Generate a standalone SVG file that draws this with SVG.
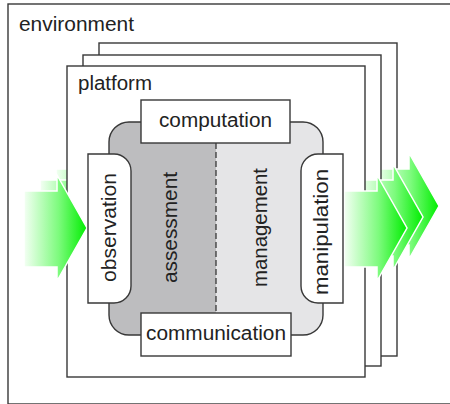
<svg xmlns="http://www.w3.org/2000/svg" xmlns:xlink="http://www.w3.org/1999/xlink" width="450" height="404" viewBox="0 0 450 404">
  <style>
    .frame { fill: #ffffff; stroke: #383838; stroke-width: 1.4; }
    .label { font-family: "Liberation Sans", Arial, sans-serif; font-size: 19.5px; fill: #222222; }
    .mid { text-anchor: middle; }
    .flow { fill: url(#flowFill); stroke: #ffffff; stroke-width: 1.5; stroke-linejoin: miter; }
  </style>
  <defs>
    <linearGradient id="flowFill" x1="0" y1="0" x2="1" y2="0">
      <stop offset="0" stop-color="#f4fff4"/>
      <stop offset="0.55" stop-color="#7dfb7d"/>
      <stop offset="1" stop-color="#00ee00"/>
    </linearGradient>
    <!-- block arrow: body 24..57, head 57..87, tip at y=228 -->
    <path id="arrow" d="M24,191 H57 V175 L87,228 L57,281 V267 H24 Z"/>
  </defs>

  <!-- outer environment frame -->
  <g id="environment">
    <rect class="frame" x="8" y="4" width="460" height="400"/>
    <text class="label" x="19" y="31" textLength="115" lengthAdjust="spacingAndGlyphs">environment</text>
  </g>

  <!-- stacked platforms, back to front; each carries its own in/out flow -->
  <g id="platform-3">
    <rect class="frame" x="99" y="43" width="298" height="313"/>
    <g class="flows">
      <use xlink:href="#arrow" class="flow" transform="translate(32,-22)"/>
      <use xlink:href="#arrow" class="flow" transform="translate(352,-22)"/>
    </g>
  </g>
  <g id="platform-2">
    <rect class="frame" x="83" y="55" width="298" height="311"/>
    <g class="flows">
      <use xlink:href="#arrow" class="flow" transform="translate(16,-11)"/>
      <use xlink:href="#arrow" class="flow" transform="translate(336,-11)"/>
    </g>
  </g>
  <g id="platform">
    <rect class="frame" x="67" y="66" width="298" height="311"/>
    <text class="label" x="78" y="90" textLength="74" lengthAdjust="spacingAndGlyphs">platform</text>
    <g class="flows">
      <use xlink:href="#arrow" class="flow"/>
      <use xlink:href="#arrow" class="flow" transform="translate(320,0)"/>
    </g>
  </g>

  <!-- core: assessment / management halves -->
  <g id="core">
    <rect x="109" y="122" width="214" height="213" rx="20" ry="20" fill="#e5e5e7"/>
    <path d="M216,122 H129 A20,20 0 0 0 109,142 V315 A20,20 0 0 0 129,335 H216 Z" fill="#bdbdbf"/>
    <rect x="109" y="122" width="214" height="213" rx="20" ry="20" fill="none" stroke="#383838" stroke-width="1.4"/>
    <line x1="216" y1="143" x2="216" y2="313" stroke="#383838" stroke-width="1.3" stroke-dasharray="6,3"/>
  </g>
  <g id="assessment">
    <text class="label mid" transform="translate(177,227.5) rotate(-90)" textLength="111" lengthAdjust="spacingAndGlyphs">assessment</text>
  </g>
  <g id="management">
    <text class="label mid" transform="translate(267,227.5) rotate(-90)" textLength="119" lengthAdjust="spacingAndGlyphs">management</text>
  </g>

  <g id="computation">
    <rect class="frame" x="141" y="100" width="149" height="43"/>
    <text class="label" x="159" y="126.5" textLength="113" lengthAdjust="spacingAndGlyphs">computation</text>
  </g>
  <g id="communication">
    <rect class="frame" x="141" y="313" width="150" height="43"/>
    <text class="label" x="146" y="339.5" textLength="140" lengthAdjust="spacingAndGlyphs">communication</text>
  </g>
  <g id="observation">
    <path class="frame" d="M88,154 H114 A17,17 0 0 1 131,171 V286 A17,17 0 0 1 114,303 H88 Z"/>
    <text class="label mid" transform="translate(116,227.5) rotate(-90)" textLength="109" lengthAdjust="spacingAndGlyphs">observation</text>
  </g>
  <g id="manipulation">
    <path class="frame" d="M343,154 H318 A17,17 0 0 0 301,171 V286 A17,17 0 0 0 318,303 H343 Z"/>
    <text class="label mid" transform="translate(327.5,232) rotate(-90)" textLength="126" lengthAdjust="spacingAndGlyphs">manipulation</text>
  </g>
</svg>
